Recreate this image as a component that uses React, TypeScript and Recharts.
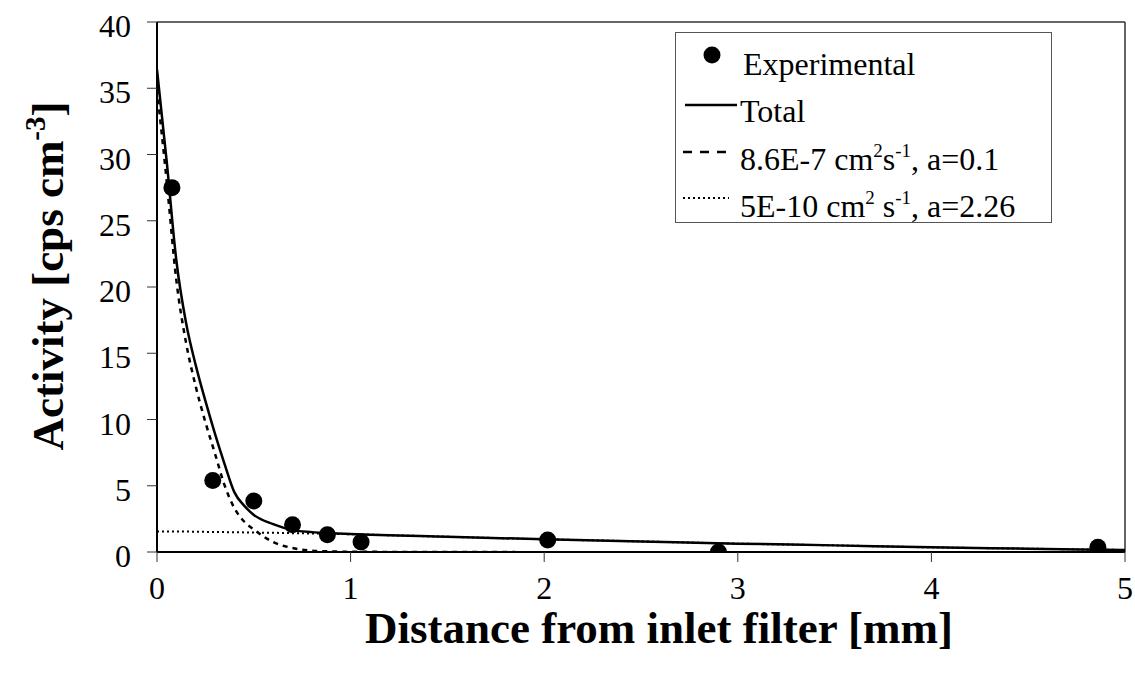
import {
  ComposedChart,
  Label,
  Legend,
  Line,
  ReferenceLine,
  Scatter,
  XAxis,
  YAxis,
} from 'recharts';

// experimental points
const expX = [0.077, 0.288, 0.5, 0.7, 0.88, 1.054, 2.018, 2.9, 4.86];
const expY = [27.5, 5.4, 3.85, 2.05, 1.3, 0.75, 0.9, 0.0, 0.35];

// model curves
const curveX = [0, 0.05, 0.1, 0.15, 0.2, 0.25, 0.3, 0.35, 0.4, 0.45, 0.5, 0.6, 0.7, 0.8, 0.9, 1, 1.5, 2, 2.5, 3, 3.5, 4, 4.5, 5];
const totalY = [36.4, 29.5, 22.0, 17.3, 14.1, 11.4, 8.9, 6.6, 4.5, 3.5, 2.8, 2.1, 1.65, 1.5, 1.42, 1.36, 1.15, 0.96, 0.8, 0.63, 0.5, 0.35, 0.25, 0.15];
const slowY = [1.55, 1.55, 1.54, 1.54, 1.53, 1.52, 1.51, 1.5, 1.49, 1.48, 1.47, 1.45, 1.42, 1.4, 1.37, 1.34, 1.15, 0.96, 0.8, 0.63, 0.5, 0.35, 0.25, 0.15];

const fastX = [0, 0.05, 0.1, 0.15, 0.2, 0.25, 0.3, 0.35, 0.4, 0.45, 0.5, 0.6, 0.7, 0.8, 0.9, 1, 1.5, 1.85];
const fastY = [34.9, 28.0, 20.5, 15.8, 12.5, 9.8, 7.4, 5.0, 3.3, 2.3, 1.7, 0.75, 0.3, 0.1, 0.04, 0.02, 0, 0];

const xTicks = [0, 1, 2, 3, 4, 5];
const yTicks = [0, 5, 10, 15, 20, 25, 30, 35, 40];

const expData = expX.map((x, i) => ({ x, y: expY[i] }));
const totalData = curveX.map((x, i) => ({ x, y: totalY[i] }));
const slowData = curveX.map((x, i) => ({ x, y: slowY[i] }));
const fastData = fastX.map((x, i) => ({ x, y: fastY[i] }));

const FONT = '"Liberation Serif", "Times New Roman", serif';

function LegendBox() {
  const txt = { fontFamily: FONT, fontSize: 32, fill: '#000' };
  return (
    <svg width={377} height={191} style={{ display: 'block' }}>
      <rect x={0.5} y={0.5} width={376} height={190} fill="#fff" stroke="#555" strokeWidth={1} />
      <circle cx={37} cy={23} r={8.5} fill="#000" />
      <text x={68} y={43} {...txt}>Experimental</text>
      <line x1={10} x2={62} y1={73} y2={73} stroke="#000" strokeWidth={2.5} />
      <text x={65} y={90} {...txt}>Total</text>
      <line x1={8} x2={54} y1={120} y2={120} stroke="#000" strokeWidth={2.5} strokeDasharray="9 8" />
      <text x={65} y={138} {...txt}>
        8.6E-7 cm
        <tspan dy={-13} fontSize={19}>2</tspan>
        <tspan dy={13}>s</tspan>
        <tspan dy={-13} fontSize={19}>-1</tspan>
        <tspan dy={13}>, a=0.1</tspan>
      </text>
      <line x1={8} x2={54} y1={166} y2={166} stroke="#000" strokeWidth={2} strokeDasharray="2 3" />
      <text x={65} y={185} {...txt}>
        5E-10 cm
        <tspan dy={-13} fontSize={19}>2</tspan>
        <tspan dy={13}> s</tspan>
        <tspan dy={-13} fontSize={19}>-1</tspan>
        <tspan dy={13}>, a=2.26</tspan>
      </text>
    </svg>
  );
}

const XTick = (p: any) => (
  <text x={p.x} y={p.y + 37} textAnchor="middle" fontFamily={FONT} fontSize={32} fill="#000">
    {p.payload.value}
  </text>
);

const YTick = (p: any) => (
  <text x={p.x} y={p.y + 15} textAnchor="end" fontFamily={FONT} fontSize={32} fill="#000">
    {p.payload.value}
  </text>
);

export default function App() {
  return (
    <div style={{ position: 'absolute', left: 0, top: 0, width: 1135, height: 682, background: '#fff' }}>
      <ComposedChart width={1135} height={682} margin={{ top: 22, right: 10, left: 0, bottom: 0 }}>
        <XAxis
          type="number"
          dataKey="x"
          domain={[0, 5]}
          ticks={xTicks}
          allowDataOverflow
          height={130}
          tick={XTick}
          tickSize={10}
          tickMargin={0}
          axisLine={{ stroke: '#000', strokeWidth: 2 }}
          tickLine={{ stroke: '#333', strokeWidth: 1 }}
        >
          <Label
            content={() => (
              <text x={659} y={643} textAnchor="middle" fontFamily={FONT} fontSize={45} fontWeight="bold" fill="#000">
                Distance from inlet filter [mm]
              </text>
            )}
          />
        </XAxis>
        <YAxis
          type="number"
          domain={[0, 40]}
          ticks={yTicks}
          allowDataOverflow
          width={157}
          tick={YTick}
          tickSize={10}
          tickMargin={16}
          axisLine={{ stroke: '#000', strokeWidth: 2 }}
          tickLine={{ stroke: '#333', strokeWidth: 1 }}
        >
          <Label
            content={() => (
              <text
                x={0}
                y={0}
                transform="translate(63, 276) rotate(-90)"
                textAnchor="middle"
                fontFamily={FONT}
                fontSize={45}
                fontWeight="bold"
                fill="#000"
              >
                Activity [cps cm
                <tspan dy={-18} fontSize={29}>-3</tspan>
                <tspan dy={18}>]</tspan>
              </text>
            )}
          />
        </YAxis>
        <ReferenceLine y={40} stroke="#333" strokeWidth={1.5} ifOverflow="visible" />
        <ReferenceLine x={5} stroke="#333" strokeWidth={1.5} ifOverflow="visible" />
        <Line data={totalData} dataKey="y" type="monotone" stroke="#000" strokeWidth={2.5} dot={false} isAnimationActive={false} />
        <Line data={fastData} dataKey="y" type="monotone" stroke="#000" strokeWidth={2.5} strokeDasharray="5 5" dot={false} isAnimationActive={false} />
        <Line data={slowData} dataKey="y" type="monotone" stroke="#000" strokeWidth={2} strokeDasharray="2 3" dot={false} isAnimationActive={false} />
        <Scatter
          data={expData}
          dataKey="y"
          fill="#000"
          isAnimationActive={false}
          shape={(p: any) => <circle cx={p.cx} cy={p.cy} r={8.5} fill="#000" />}
        />
        <Legend
          layout="horizontal"
          verticalAlign="middle"
          align="center"
          wrapperStyle={{ left: 675, top: 32, width: 377, height: 191 }}
          content={() => <LegendBox />}
        />
      </ComposedChart>
    </div>
  );
}
